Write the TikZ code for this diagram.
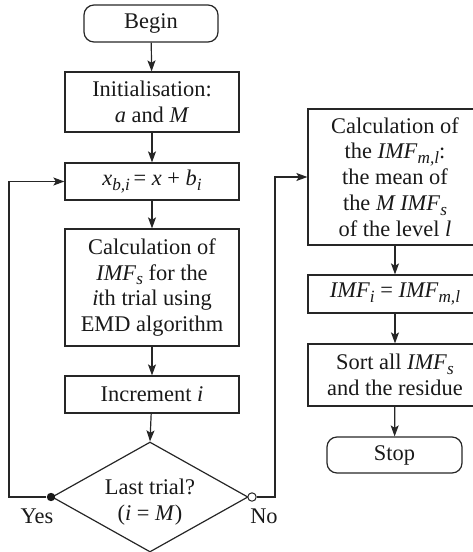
\documentclass[tikz,border=0pt]{standalone}
\usepackage{fontspec}
\setmainfont{Liberation Serif}
\usetikzlibrary{shapes.geometric,arrows.meta}
\newcommand{\sub}[1]{\raisebox{-0.45ex}{\fontsize{8.6}{9}\selectfont\textit{#1}}}
\begin{document}
\begin{tikzpicture}[x=0.5pt,y=-0.5pt,
  every node/.style={font=\fontsize{11.2}{12.9}\selectfont, text=black!90},
  box/.style={draw=black!85,rectangle,align=center,inner sep=0pt,line width=0.6pt,minimum width=87pt},
  term/.style={box,rounded corners=5pt,minimum width=67pt,minimum height=18pt},
  ln/.style={draw=black!85,line width=0.6pt},
  conn/.style={ln,-{Stealth[length=5.5pt,width=4pt,inset=1.2pt]}}]
\useasboundingbox (0,0) rectangle (472,552);
% left column
\node[term,minimum height=18.5pt] (begin) at (151,23.5) {Begin};
\node[box,minimum height=30pt] (init) at (152,102) {Initialisation:\\\textit{a} and \textit{M}};
\node[box,minimum height=18.5pt] (xbi) at (152,181.5) {\textit{x}\sub{b,i}\,= \textit{x} + \textit{b}\sub{i}};
\node[box,minimum height=58.5pt] (calc) at (152,287.5) {Calculation of\\\textit{IMF}\sub{s} for the\\\textit{i}th trial using\\EMD algorithm};
\node[box,minimum height=18.5pt] (incr) at (152,394.5) {Increment \textit{i}};
\node[ln,diamond,inner sep=0pt,minimum width=98pt,minimum height=55pt] (dec) at (150,497) {};
\node[align=center] (dectext) at (150,502) {Last trial?\\(\textit{i} = \textit{M})};
% right column
\node[box,minimum height=68pt] (mean) at (395,177) {Calculation of\\the \textit{IMF}\sub{m,l}:\\the mean of\\the \textit{M IMF}\sub{s}\\of the level \textit{l}};
\node[box,minimum height=19pt] (imfi) at (395,294) {\textit{IMF}\sub{i} = \textit{IMF}\sub{m,l}};
\node[box,minimum height=31pt] (sort) at (395,375) {Sort all \textit{IMF}\sub{s}\\and the residue};
\node[term,minimum width=67.5pt] (stop) at (394.5,455) {Stop};
% decision markers
\node[circle,fill=black!90,inner sep=0pt,minimum size=4.2pt] (yes) at (51,497) {};
\node[circle,draw=black!85,fill=white,line width=0.5pt,inner sep=0pt,minimum size=4.2pt] (no) at (252,497) {};
\node (yeslbl) at (37,516) {Yes};
\node (nolbl) at (264,516) {No};
\coordinate (yesturn) at (9,497);
\coordinate (noturn) at (275,497);
% connectors
\draw[conn] (begin) -- (init);
\draw[conn] (init) -- (xbi);
\draw[conn] (xbi) -- (calc);
\draw[conn] (calc) -- (incr);
\draw[conn] (incr) -- (dec.north);
\draw[conn] (yes) -- (yesturn) |- (xbi.west);
\draw[conn] (no) -- (noturn) |- (mean.west);
\draw[conn] (mean) -- (imfi);
\draw[conn] (imfi) -- (sort);
\draw[conn] (sort) -- (stop);
\end{tikzpicture}
\end{document}
